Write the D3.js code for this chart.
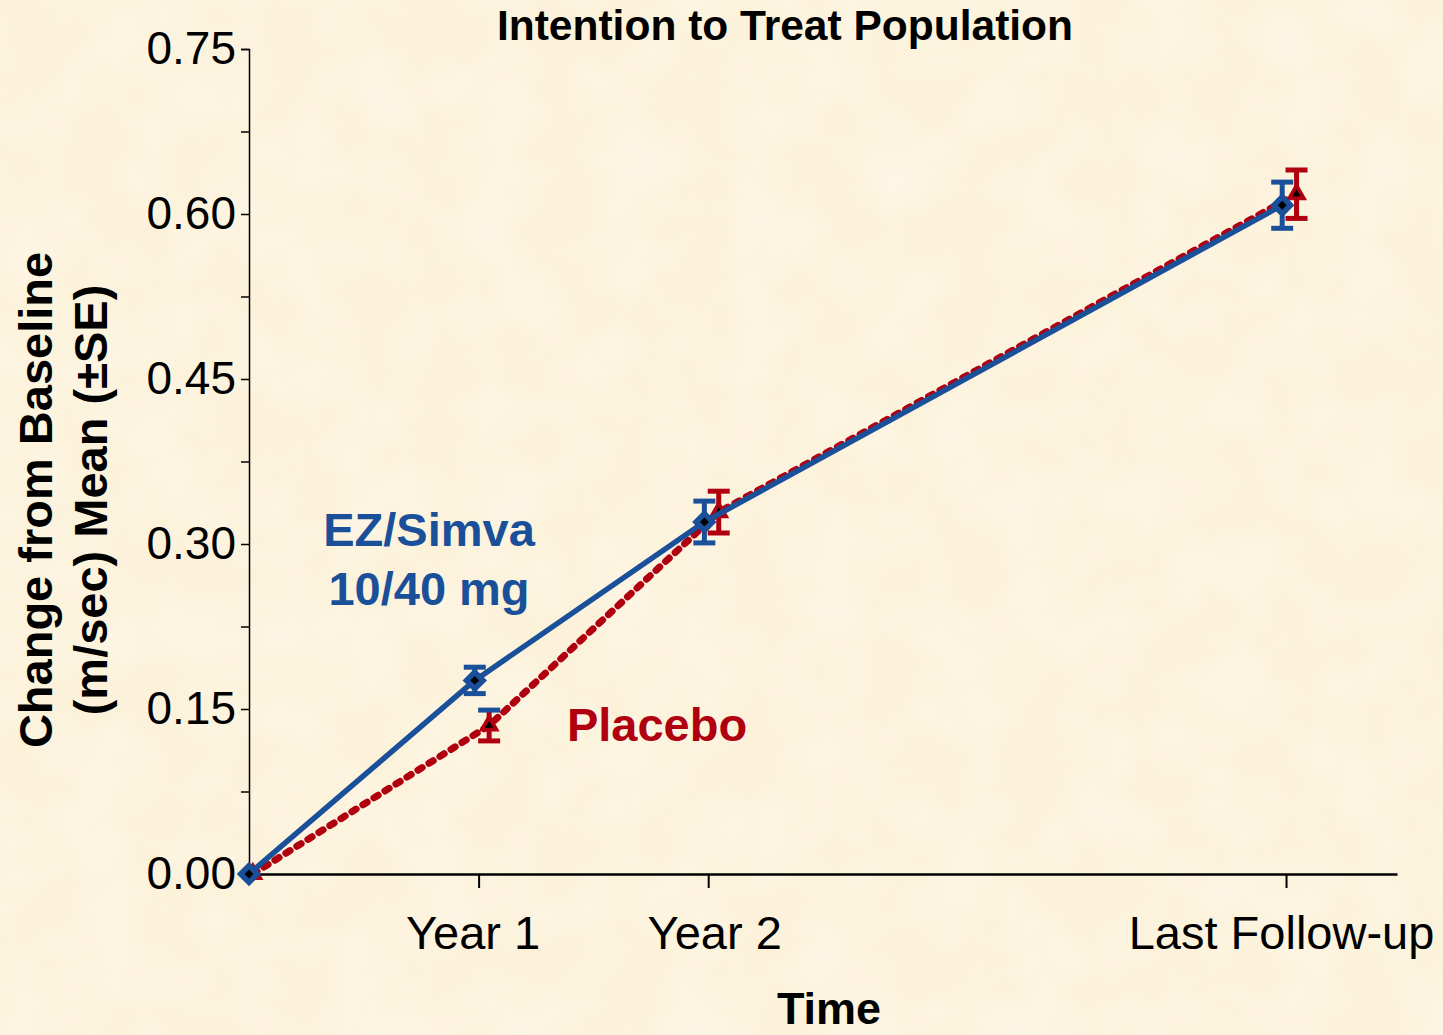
<!DOCTYPE html>
<html><head><meta charset="utf-8">
<script src="https://cdn.jsdelivr.net/npm/d3@7"></script>
<style>
html,body{margin:0;padding:0;background:#fcf2db;}
svg{display:block;font-family:"Liberation Sans",Arial,sans-serif;}
</style></head>
<body>
<script>
// ---- data ----
const categories = ["Baseline", "Year 1", "Year 2", "Last Follow-up"];
const monthPos = [0, 12, 24, 54.2];            // time position of each category (months)
const xTickLabels = ["Year 1", "Year 2", "Last Follow-up"];
const ezSimvaMean = [0, 0.176, 0.320, 0.608];
const ezSimvaSE   = [0, 0.012, 0.019, 0.021];
const placeboMean = [0, 0.135, 0.329, 0.618];
const placeboSE   = [0, 0.014, 0.019, 0.022];
const yTickValues = [0, 0.15, 0.30, 0.45, 0.60, 0.75];
const yMinorValues = [0.075, 0.225, 0.375, 0.525, 0.675];
const seriesNames = ["EZ/Simva", "Placebo"];

const W = 1443, H = 1035;
const blue = "#1a4f9a", red = "#b0000f";
const svg = d3.select("body").append("svg").attr("width", W).attr("height", H);

const defs = svg.append("defs");
const f = defs.append("filter").attr("id","tex").attr("x",0).attr("y",0).attr("width","100%").attr("height","100%");
f.append("feTurbulence").attr("type","fractalNoise").attr("baseFrequency","0.015").attr("numOctaves",3).attr("seed",4);
f.append("feColorMatrix").attr("type","matrix")
 .attr("values","0 0 0 0 1  0 0 0 0 1  0 0 0 0 0.98  0 0 0 0.5 -0.1");
svg.append("rect").attr("width",W).attr("height",H).attr("fill","#fcf1d8");
svg.append("rect").attr("width",W).attr("height",H).attr("filter","url(#tex)");

const x = d3.scaleLinear().domain([0, 60]).range([249, 1397]);
const y = d3.scaleLinear().domain([0, 0.75]).range([874, 49]);

// axes
const yAxis = d3.axisLeft(y).tickValues(yTickValues).tickFormat(d3.format(".2f")).tickSize(8).tickPadding(4);
const gy = svg.append("g").attr("transform","translate(249,0)").call(yAxis);
gy.select(".domain").attr("stroke","#000").attr("stroke-width",1.5);
gy.selectAll(".tick line").attr("stroke","#000").attr("stroke-width",1.5);
gy.selectAll(".tick text").attr("font-size",46).attr("fill","#000").attr("font-family","Liberation Sans, Arial, sans-serif").attr("dx", -1);
svg.append("g").attr("transform","translate(249,0)")
  .call(d3.axisLeft(y).tickValues(yMinorValues).tickSize(8).tickFormat(""))
  .call(g=>{g.select(".domain").remove(); g.selectAll("line").attr("stroke","#000").attr("stroke-width",1.5);});

const xAxis = d3.axisBottom(x).tickValues(monthPos.slice(1)).tickFormat((d,i)=>xTickLabels[i]).tickSize(14).tickPadding(28).tickSizeOuter(0);
const gx = svg.append("g").attr("transform","translate(0,874)").call(xAxis);
gx.select(".domain").attr("stroke","#000").attr("stroke-width",2.5);
gx.selectAll(".tick line").attr("stroke","#000").attr("stroke-width",2);
gx.selectAll(".tick text").attr("font-size",47).attr("fill","#000").attr("font-family","Liberation Sans, Arial, sans-serif")
  .attr("dx",(d,i)=>[-6,6,-5][i]);

// series
const series = [
  {name: seriesNames[0], mean: ezSimvaMean, se: ezSimvaSE, off: -0.2, color: blue, dash: null, shape: "diamond"},
  {name: seriesNames[1], mean: placeboMean, se: placeboSE, off: 0.55, color: red, dash: "5,8", shape: "triangle"}
];
const pts = s => monthPos.map((m,i)=>({x: x(i===0 ? (s.shape==="triangle"?0.2:0) : m + s.off), y: y(s.mean[i]), lo: y(s.mean[i]-s.se[i]), hi: y(s.mean[i]+s.se[i]), i}));
const line = d3.line().x(d=>d.x).y(d=>d.y);

// draw placebo first, then EZ/Simva on top
[series[1], series[0]].forEach(s=>{
  const p = pts(s);
  const g = svg.append("g");
  g.append("path").attr("d", line(p)).attr("fill","none").attr("stroke", s.color)
   .attr("stroke-width", s.dash ? 7 : 5.5).attr("stroke-linecap","round").attr("stroke-linejoin","round")
   .attr("stroke-dasharray", s.dash);
  const eb = p.filter(d=>d.i>0);
  g.selectAll(".ev").data(eb).join("line").attr("x1",d=>d.x).attr("x2",d=>d.x).attr("y1",d=>d.lo).attr("y2",d=>d.hi)
   .attr("stroke", s.color).attr("stroke-width",5);
  g.selectAll(".ct").data(eb).join("line").attr("x1",d=>d.x-11).attr("x2",d=>d.x+11).attr("y1",d=>d.hi).attr("y2",d=>d.hi)
   .attr("stroke", d=> (s.shape==="triangle" && d.i===1) ? blue : s.color).attr("stroke-width",5);
  g.selectAll(".cb").data(eb).join("line").attr("x1",d=>d.x-11).attr("x2",d=>d.x+11).attr("y1",d=>d.lo).attr("y2",d=>d.lo)
   .attr("stroke", s.color).attr("stroke-width",5);
  const outer = d3.symbol().type(s.shape==="diamond" ? d3.symbolDiamond2 : d3.symbolTriangle2).size(s.shape==="diamond"?380:320);
  const inner = d3.symbol().type(s.shape==="diamond" ? d3.symbolDiamond2 : d3.symbolTriangle2).size(50);
  g.selectAll(".mo").data(p).join("path").attr("d", outer()).attr("transform",d=>`translate(${d.x},${d.y})`).attr("fill", s.color);
  g.selectAll(".mi").data(p).join("path").attr("d", inner()).attr("transform",d=>`translate(${d.x},${d.y})`).attr("fill", "#000");
});

// labels
svg.append("text").attr("x",785).attr("y",40).attr("text-anchor","middle").attr("font-size",42.5).attr("font-weight","bold").text("Intention to Treat Population");
svg.append("text").attr("x",829).attr("y",1024).attr("text-anchor","middle").attr("font-size",45).attr("font-weight","bold").text("Time");
const yl = svg.append("text").attr("transform","translate(52,500) rotate(-90)").attr("text-anchor","middle").attr("font-size",47).attr("font-weight","bold");
yl.append("tspan").attr("x",0).attr("y",0).text("Change from Baseline");
yl.append("tspan").attr("x",0).attr("y",55).text("(m/sec) Mean (±SE)");

const ez = svg.append("text").attr("x",429).attr("y",546).attr("text-anchor","middle").attr("font-size",47).attr("font-weight","bold").attr("fill",blue);
ez.append("tspan").attr("x",429).text("EZ/Simva");
ez.append("tspan").attr("x",429).attr("dy",59).text("10/40 mg");
svg.append("text").attr("x",657).attr("y",741).attr("text-anchor","middle").attr("font-size",47).attr("font-weight","bold").attr("fill",red).text("Placebo");
</script>
</body></html>
